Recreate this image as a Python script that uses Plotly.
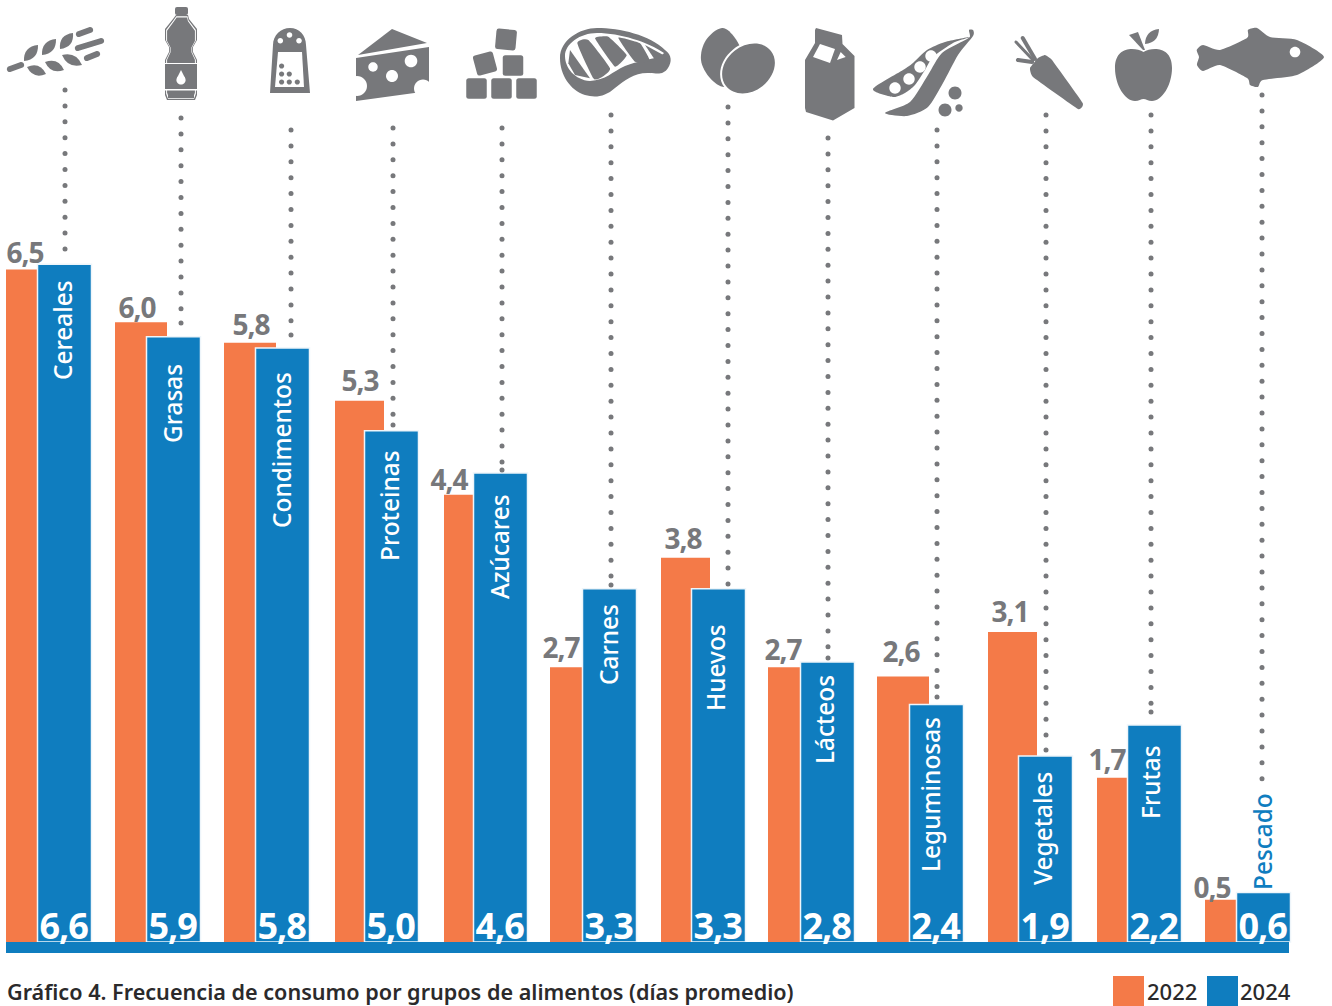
import math
import plotly.graph_objects as go

# ---------- data ----------
categories = ["Cereales", "Grasas", "Condimentos", "Proteinas", "Azúcares", "Carnes",
              "Huevos", "Lácteos", "Leguminosas", "Vegetales", "Frutas", "Pescado"]
labels_2022 = ["6,5", "6,0", "5,8", "5,3", "4,4", "2,7", "3,8", "2,7", "2,6", "3,1", "1,7", "0,5"]
labels_2024 = ["6,6", "5,9", "5,8", "5,0", "4,6", "3,3", "3,3", "2,8", "2,4", "1,9", "2,2", "0,6"]
# bar heights as drawn in the picture
values_2022 = [6.51, 6.00, 5.80, 5.24, 4.33, 2.66, 3.72, 2.66, 2.57, 3.00, 1.59, 0.41]
values_2024 = [6.56, 5.86, 5.75, 4.95, 4.54, 3.42, 3.42, 2.71, 2.30, 1.80, 2.10, 0.48]
years = ["2022", "2024"]
title_text = "Gráfico 4. Frecuencia de consumo por grupos de alimentos (días promedio)"

# ---------- layout constants ----------
W, H = 1332, 1006
ORANGE, BLUE, GRAY, INK = "#F47A48", "#0F7DBF", "#77787B", "#2B2A2B"
PITCH, FIRST_C, BASE, PXU = 109.0, 64.5, 942.0, 103.3
x_range = [-FIRST_C / PITCH, (W - FIRST_C) / PITCH]
y_range = [(BASE - H) / PXU, BASE / PXU]
orange_left = [6, 115, 224, 335, 444, 550, 661, 768, 877, 988, 1097, 1205]
orange_right = [58, 167, 276, 384, 496, 602, 710, 820, 929, 1037, 1149, 1257]
gray_label_xy = [(25, 252), (137, 307), (251, 324), (360, 380), (449, 479), (561, 647),
                 (683, 538), (783, 649), (901, 651), (1010, 611), (1107, 759), (1212, 887)]
name_xy = [(62, 330), (172, 404), (281, 450), (389, 506), (499, 547), (608, 645),
           (715, 668), (824, 720), (930, 795), (1042, 829), (1150, 782), (1262, 842)]
leader_x = [65, 181, 291, 393, 502, 611, 728, 828, 937, 1046, 1151, 1262]
leader_top = [90, 118, 130, 128, 128, 115, 107, 138, 130, 115, 115, 95]
leader_bot = [253, 323, 335, 425, 470, 585, 585, 658, 697, 750, 712, 780]
DOT_STEP = 15.9

# ---------- icon path helpers (pixel coordinates on an overlay axis) ----------
K = 0.5523

def circ(cx, cy, r, ry=None, ang=0.0):
    ry = r if ry is None else ry
    c, s = math.cos(math.radians(ang)), math.sin(math.radians(ang))
    def T(u, v):
        return f"{cx + u * c - v * s:.2f},{cy + u * s + v * c:.2f}"
    return (f"M{T(r, 0)} C{T(r, K * ry)} {T(K * r, ry)} {T(0, ry)} "
            f"C{T(-K * r, ry)} {T(-r, K * ry)} {T(-r, 0)} "
            f"C{T(-r, -K * ry)} {T(-K * r, -ry)} {T(0, -ry)} "
            f"C{T(K * r, -ry)} {T(r, -K * ry)} {T(r, 0)} Z")

def lens(x0, y0, x1, y1, w):
    dx, dy = x1 - x0, y1 - y0
    n = math.hypot(dx, dy)
    nx, ny = -dy / n * w, dx / n * w
    mx, my = (x0 + x1) / 2, (y0 + y1) / 2
    return (f"M{x0},{y0} Q{mx + nx:.2f},{my + ny:.2f} {x1},{y1} "
            f"Q{mx - nx:.2f},{my - ny:.2f} {x0},{y0} Z")

def capsule(x0, y0, x1, y1, w):
    dx, dy = x1 - x0, y1 - y0
    n = math.hypot(dx, dy)
    ux, uy = dx / n, dy / n
    nx, ny = -uy * w / 2, ux * w / 2
    e = w * 0.7
    return (f"M{x0 + nx:.2f},{y0 + ny:.2f} L{x1 + nx:.2f},{y1 + ny:.2f} "
            f"C{x1 + nx + ux * e:.2f},{y1 + ny + uy * e:.2f} {x1 - nx + ux * e:.2f},{y1 - ny + uy * e:.2f} {x1 - nx:.2f},{y1 - ny:.2f} "
            f"L{x0 - nx:.2f},{y0 - ny:.2f} "
            f"C{x0 - nx - ux * e:.2f},{y0 - ny - uy * e:.2f} {x0 + nx - ux * e:.2f},{y0 + ny - uy * e:.2f} {x0 + nx:.2f},{y0 + ny:.2f} Z")

def poly(pts):
    return "M" + " L".join(f"{x:.2f},{y:.2f}" for x, y in pts) + " Z"

def smooth(pts, t=0.17):
    n = len(pts)
    d = f"M{pts[0][0]:.2f},{pts[0][1]:.2f}"
    for i in range(n):
        p0, p1, p2, p3 = pts[i - 1], pts[i], pts[(i + 1) % n], pts[(i + 2) % n]
        c1 = (p1[0] + (p2[0] - p0[0]) * t, p1[1] + (p2[1] - p0[1]) * t)
        c2 = (p2[0] - (p3[0] - p1[0]) * t, p2[1] - (p3[1] - p1[1]) * t)
        d += f" C{c1[0]:.2f},{c1[1]:.2f} {c2[0]:.2f},{c2[1]:.2f} {p2[0]:.2f},{p2[1]:.2f}"
    return d + " Z"

def rrect(cx, cy, s, ang=0.0, r=2.5, sy=None):
    c, sn = math.cos(math.radians(ang)), math.sin(math.radians(ang))
    h = s / 2
    v_ = h if sy is None else sy / 2
    def T(u, v):
        return f"{cx + u * c - v * sn:.2f},{cy + u * sn + v * c:.2f}"
    return (f"M{T(-h + r, -v_)} L{T(h - r, -v_)} Q{T(h, -v_)} {T(h, -v_ + r)} L{T(h, v_ - r)} "
            f"Q{T(h, v_)} {T(h - r, v_)} L{T(-h + r, v_)} Q{T(-h, v_)} {T(-h, v_ - r)} "
            f"L{T(-h, -v_ + r)} Q{T(-h, -v_)} {T(-h + r, -v_)} Z")

def zoomed(pts, ox):
    return [(ox + x / 3, y / 3) for x, y in pts]

bottle_pts = [(176, 15), (188, 15), (189, 19), (197, 29), (197, 40), (193, 47), (193, 52), (197, 60),
              (197, 95), (195, 100), (167, 100), (165, 95), (165, 60), (169, 52), (169, 47), (165, 40),
              (165, 29), (173, 19)]
def inset(pts, f):
    return [(181 + (x - 181) * f, 57 + (y - 57) * (1 - (1 - f) * 0.45)) for x, y in pts]

G, Wt = GRAY, "#FFFFFF"
icons = [
    # wheat
    (G, capsule(10, 69, 21, 65, 6)), (G, capsule(79, 34, 90, 30, 6)),
    (G, capsule(78, 48, 101, 41, 6)), (G, capsule(87, 58, 97, 54, 6)),
    (G, lens(24, 61, 38, 45, 10)), (G, lens(42, 55, 56, 39, 10)), (G, lens(60, 49, 73, 33, 10)),
    (G, lens(27, 67, 46, 74, 9.5)), (G, lens(45, 62, 64, 70, 9.5)), (G, lens(62, 55, 82, 65, 9.5)),
    # bottle
    (G, rrect(181.5, 11, 13, 0, 2, 8)),
    (G, poly(bottle_pts)), (Wt, poly(inset(bottle_pts, 0.93))), (G, poly(inset(bottle_pts, 0.87))),
    (G, poly([(165.5, 64), (196.5, 64), (196.5, 89), (165.5, 89)])),
    (Wt, poly([(165, 63), (197, 63), (197, 64), (165, 64)])),
    (Wt, poly([(165, 89), (197, 89), (197, 90.5), (165, 90.5)])),
    (G, poly([(168, 91), (194, 91), (194, 98), (168, 98)])),
    (Wt, circ(181, 80, 4.6)), (Wt, poly([(181, 70), (185, 78), (177, 78)])),
    # shaker
    (G, "M270,93 L273,45 C273,35 281,28 290,28 C299,28 306,35 306,45 L310,93 Z"),
    (Wt, poly([(278, 52), (302, 52), (304, 87), (275, 87)])),
] + [(G, circ(270 + x, y, 2.6)) for x, y in [(11.6, 66), (11.6, 74), (19.3, 74), (11.6, 82), (19.3, 82), (27.3, 82)]] + [
    (Wt, circ(280.3, 40.7, 2.8)), (Wt, circ(289.5, 35, 2.8)), (Wt, circ(299, 40.7, 2.8)),
    # cheese
    (G, poly([(358, 55), (392, 29), (427, 43)])),
    (G, poly([(356, 58), (429, 47), (429, 91), (356, 101)])),
    (Wt, circ(373, 67, 4.7)), (Wt, circ(411, 61, 6.3)), (Wt, circ(392, 76, 6)),
    (Wt, circ(357, 86, 10)), (Wt, circ(423, 88.5, 9)),
    # sugar
    (G, rrect(476.5, 88.5, 20.5)), (G, rrect(501.5, 88.5, 20.5)), (G, rrect(526.5, 88.5, 20.5)),
    (G, rrect(513, 65.5, 20.5)), (G, rrect(485, 63.5, 20.5, -15)), (G, rrect(506, 39.5, 20.5, 5)),
    # steak
    (G, "M560,58 C560,40 580,28 597,28 C620,28 650,35 665,50 C672,55 672,62 668,68 C664,74 660,74 650,73 "
        "C635,72 625,80 615,88 C605,97 595,98 585,95 C570,90 560,75 560,58 Z"),
    (Wt, "M565,56 C565,44 580,33 597,33 C620,33 648,42 664,53 C660,59 640,60 625,66 C612,72 606,80 590,81 C575,80 565,68 565,56 Z"),
    (G, poly(zoomed([(360, 150), (420, 235), (375, 225), (355, 190)], 450))),
    (G, smooth(zoomed([(382, 130), (415, 120), (480, 205), (455, 232), (430, 235)], 450), 0.08)),
    (G, smooth(zoomed([(435, 115), (475, 110), (530, 165), (495, 200)], 450), 0.06)),
    (G, smooth(zoomed([(505, 113), (570, 130), (600, 183), (555, 185)], 450), 0.06)),
    (G, poly(zoomed([(585, 135), (640, 165), (615, 180)], 450))),
    # eggs
    (G, smooth([(722, 28), (735, 38), (742, 55), (738, 75), (725, 87), (710, 78), (701, 60), (706, 40)])),
    (Wt, circ(748.5, 68.5, 30.5, 24.5, -38)), (G, circ(748.5, 68.5, 28.5, 22.5, -38)),
    # milk carton
    (G, poly([(815, 30), (816, 28), (842, 35), (842.5, 44), (854.5, 56), (854.5, 108), (833, 120.5),
              (806, 112), (805, 108), (805, 60), (815, 43)])),
    (Wt, poly([(820, 44), (835, 49), (830, 63), (813, 57)])),
    (Wt, poly([(840.7, 52), (845.7, 57), (837, 60)])),
    # peas
    (G, smooth([(873, 89), (903, 70), (913, 63), (927, 50), (945, 42), (970, 37), (953, 43), (933, 57),
                (925, 70), (915, 85), (905, 93), (893, 97)], 0.12)),
    (Wt, circ(895, 88, 5.7)), (Wt, circ(909, 79, 5.7)), (Wt, circ(920, 67, 5.7)), (Wt, circ(931, 56, 5.7)),
    (G, smooth([(885, 113), (910, 102), (928, 75), (942, 53), (967, 39), (970, 36), (969, 30), (973, 30),
                (973, 36), (958, 55), (943, 83), (928, 107), (907, 116)], 0.12)),
    (G, circ(955, 93, 6.5)), (G, circ(945, 110, 6.5)), (G, circ(959, 108, 3.7)),
    # carrot
    (G, smooth([(1030, 68), (1038, 58), (1045, 55), (1052, 60), (1082.7, 103), (1078, 109), (1033, 77)], 0.05)),
    (G, capsule(1016, 42, 1033, 60, 3)), (G, capsule(1022.7, 38, 1035, 59, 4)), (G, capsule(1018, 60, 1032, 62, 4)),
    # apple
    (G, "M1143.5,52 C1135,47 1115,46 1115,68 C1115,85 1125,101 1135,101 C1139,101 1141,99 1143.5,99 "
        "C1146,99 1148,101 1152,101 C1162,101 1172,85 1172,68 C1172,46 1152,47 1143.5,52 Z"),
    (G, poly([(1129, 35), (1138, 32), (1145, 50), (1143, 50)])),
    (G, lens(1145, 44, 1159, 29, 9)),
    # fish
    (G, smooth([(1196.7, 50), (1203, 45), (1220, 50), (1247, 38), (1248, 30), (1257, 28), (1270, 37),
                (1297, 40), (1324, 57), (1297, 75), (1263, 80), (1258, 87), (1250, 85), (1247, 78),
                (1220, 65), (1203, 71), (1197, 65), (1199, 57)], 0.1)),
    (Wt, circ(1295, 52, 5.3)),
]

shapes = [dict(type="path", path=p, xref="x2", yref="y2", fillcolor=c,
               line=dict(width=0), layer="above") for c, p in icons]
# baseline band and legend swatches
shapes.append(dict(type="rect", xref="x2", yref="y2", x0=6, x1=1289, y0=942, y1=953,
                   fillcolor=BLUE, line=dict(width=0), layer="above"))
shapes.append(dict(type="rect", xref="x2", yref="y2", x0=1113, x1=1144, y0=976, y1=1006,
                   fillcolor=ORANGE, line=dict(width=0), layer="above"))
shapes.append(dict(type="rect", xref="x2", yref="y2", x0=1207, x1=1238, y0=976, y1=1006,
                   fillcolor=BLUE, line=dict(width=0), layer="above"))

# ---------- figure ----------
fig = go.Figure()
idx = list(range(len(categories)))
c_px = [FIRST_C + PITCH * i for i in idx]
fig.add_trace(go.Bar(
    x=idx, y=values_2022, name=years[0], marker=dict(color=ORANGE, line=dict(width=0)),
    width=[(r - l) / PITCH for l, r in zip(orange_left, orange_right)],
    offset=[(l - c) / PITCH for l, c in zip(orange_left, c_px)], hoverinfo="skip"))
fig.add_trace(go.Bar(
    x=idx, y=values_2024, name=years[1], marker=dict(color=BLUE, line=dict(color="#EEF5FA", width=1.5)),
    width=[54 / PITCH] * len(idx), offset=[-27 / PITCH] * len(idx), hoverinfo="skip"))

dx, dy = [], []
for x, top, bot in zip(leader_x, leader_top, leader_bot):
    n = int((bot - top) / DOT_STEP)
    for k in range(n + 1):
        dx.append(x)
        dy.append(top + k * DOT_STEP)
    if bot - dy[-1] > 6:
        dx.append(x)
        dy.append(bot)
fig.add_trace(go.Scatter(x=dx, y=dy, mode="markers", xaxis="x2", yaxis="y2",
                         marker=dict(size=5, color=GRAY, line=dict(width=0)), hoverinfo="skip"))

ann = []
FONT = "Noto Sans"
for (x, y), t in zip(gray_label_xy, labels_2022):
    ann.append(dict(x=x, y=y, xref="x2", yref="y2", text=t, showarrow=False, xanchor="center", yanchor="middle",
                    font=dict(family=FONT, size=28, color=GRAY, weight=700)))
for i, t in zip(idx, labels_2024):
    ann.append(dict(x=i, y=(BASE - 925) / PXU, xref="x", yref="y", xshift=-1, text=t, showarrow=False, xanchor="center",
                    yanchor="middle", font=dict(family=FONT, size=36, color="#FFFFFF", weight=700)))
for (x, y), t, i in zip(name_xy, categories, idx):
    col = BLUE if t == "Pescado" else "#FFFFFF"
    ann.append(dict(x=x, y=y, xref="x2", yref="y2", text=t, showarrow=False, textangle=-90, xanchor="center",
                    yanchor="middle", font=dict(family=FONT, size=24.4, color=col, weight=500)))
ann.append(dict(x=4.5, y=991, xref="x2", yref="y2", text=title_text, showarrow=False, xanchor="left", yanchor="middle",
                font=dict(family=FONT, size=21.6, color=INK, weight=600)))
ann.append(dict(x=1145, y=991, xref="x2", yref="y2", text=years[0], showarrow=False, xanchor="left", yanchor="middle",
                font=dict(family=FONT, size=22, color=INK, weight=500)))
ann.append(dict(x=1238, y=991, xref="x2", yref="y2", text=years[1], showarrow=False, xanchor="left", yanchor="middle",
                font=dict(family=FONT, size=22, color=INK, weight=500)))

fig.update_layout(
    width=W, height=H, autosize=False, margin=dict(l=0, r=0, t=0, b=0, pad=0),
    paper_bgcolor="#FFFFFF", plot_bgcolor="#FFFFFF", barmode="overlay", showlegend=False,
    xaxis=dict(range=x_range, visible=False, fixedrange=True),
    yaxis=dict(range=y_range, visible=False, fixedrange=True),
    xaxis2=dict(range=[0, W], visible=False, overlaying="x", fixedrange=True),
    yaxis2=dict(range=[H, 0], visible=False, overlaying="y", fixedrange=True),
    shapes=shapes, annotations=ann,
)
tighten = ("document.body.style.margin='0';document.documentElement.style.overflow='hidden';"
           "var t=function(){document.querySelectorAll('.annotation-text').forEach(function(e){"
           "if(/^[0-9],[0-9]$/.test(e.textContent)){e.style.letterSpacing='-1px';}});};t();setTimeout(t,50);")
fig.write_html("out.html", config=dict(displayModeBar=False), post_script=tighten)
